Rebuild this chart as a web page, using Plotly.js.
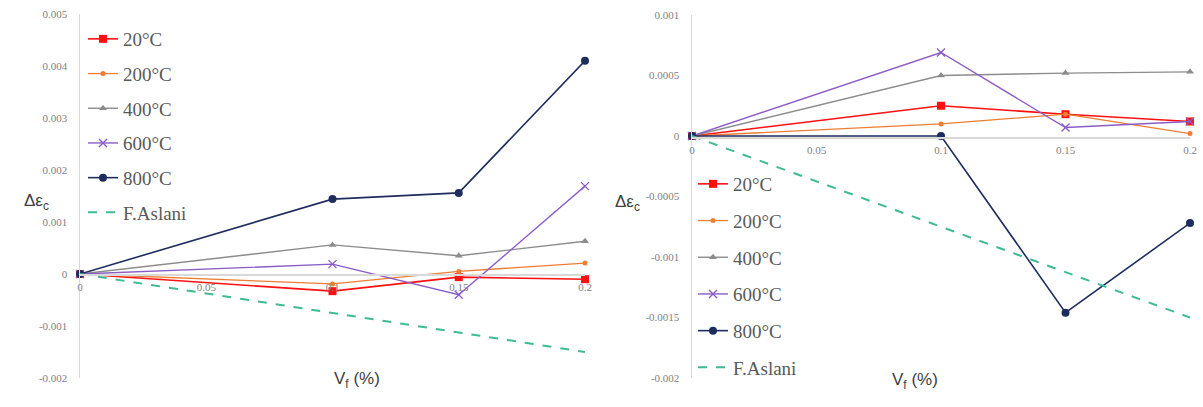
<!DOCTYPE html>
<html>
<head>
<meta charset="utf-8">
<script src="https://cdn.plot.ly/plotly-3.0.1.min.js"></script>
<style>html,body{margin:0;padding:0;background:#fff;}#chart{width:1203px;height:407px;}</style>
</head>
<body>
<div id="chart"></div>
<script>
// ---- data ----
const xVals = [0, 0.1, 0.15, 0.2];
const seriesNames = ['20°C', '200°C', '400°C', '600°C', '800°C', 'F.Aslani'];

// left panel
const left20 = [0, -0.00033, -0.00006, -0.0001];
const left200 = [0, -0.00019, 0.00005, 0.00021];
const left400 = [0, 0.00056, 0.00035, 0.00063];
const left600 = [0, 0.00019, -0.0004, 0.00169];
const left800 = [0, 0.00144, 0.00156, 0.0041];
const leftAslani = [0, -0.00075, -0.001125, -0.0015];

// right panel
const right20 = [0, 0.00025, 0.00018, 0.00012];
const right200 = [0, 0.0001, 0.00018, 0.00002];
const right400 = [0, 0.0005, 0.00052, 0.00053];
const right600 = [0, 0.00069, 0.00007, 0.00012];
const right800 = [0, 0, -0.00146, -0.00072];
const rightAslani = [0, -0.00075, -0.001125, -0.0015];

// ticks
const xTickVals = [0, 0.05, 0.1, 0.15, 0.2];
const xTickText = ['0', '0.05', '0.1', '0.15', '0.2'];
const leftYTickVals = [0.005, 0.004, 0.003, 0.002, 0.001, 0, -0.001, -0.002];
const leftYTickText = ['0.005', '0.004', '0.003', '0.002', '0.001', '0', '-0.001', '-0.002'];
const rightYTickVals = [0.001, 0.0005, 0, -0.0005, -0.001, -0.0015, -0.002];
const rightYTickText = ['0.001', '0.0005', '0', '-0.0005', '-0.001', '-0.0015', '-0.002'];

// ---- styles ----
const styles = [
  {color: '#ff1010', symbol: 'square', size: 8, width: 1.6, dash: 'solid'},
  {color: '#ed7d31', symbol: 'circle', size: 5, width: 1.3, dash: 'solid'},
  {color: '#8c8c8c', symbol: 'triangle-up', size: 7, width: 1.4, dash: 'solid'},
  {color: '#8a5cc6', symbol: 'x-thin-open', size: 8, width: 1.4, dash: 'solid'},
  {color: '#1f2d5e', symbol: 'circle', size: 8, width: 1.6, dash: 'solid'},
  {color: '#3dbb95', symbol: 'circle', size: 0, width: 2, dash: 'dash'}
];

function makeTraces(arrs, xa, ya, legendId) {
  return arrs.map((ys, i) => {
    const s = styles[i];
    const t = {
      x: xVals, y: ys, name: seriesNames[i], xaxis: xa, yaxis: ya,
      legend: legendId, legendgroup: legendId + i,
      type: 'scatter',
      mode: s.size ? 'lines+markers' : 'lines',
      line: {color: s.color, width: s.width, dash: s.dash},
      cliponaxis: false
    };
    if (s.size) {
      t.marker = {color: s.color, symbol: s.symbol, size: s.size,
        line: {color: s.color, width: s.symbol === 'x-thin-open' ? 1.4 : 0}};
    }
    return t;
  });
}

const traces = [
  ...makeTraces([left20, left200, left400, left600, left800, leftAslani], 'x', 'y', 'legend'),
  ...makeTraces([right20, right200, right400, right600, right800, rightAslani], 'x2', 'y2', 'legend2')
];

const tickFont = {family: 'Liberation Serif, serif', size: 11, color: '#7f7f7f'};
const legendFont = {family: 'Liberation Serif, serif', size: 19, color: '#595959'};
const titleFont = {family: 'Liberation Sans, Arial, sans-serif', size: 17, color: '#404040'};

const H = 407, W = 1203;
function py(p) { return 1 - p / H; }
function px(p) { return p / W; }

const layout = {
  width: W, height: H,
  margin: {l: 0, r: 0, t: 0, b: 0},
  paper_bgcolor: '#fff', plot_bgcolor: 'rgba(0,0,0,0)',
  showlegend: true,
  xaxis: {
    domain: [px(80), px(585)], range: [0, 0.2], anchor: 'free', position: py(274),
    showline: true, linecolor: '#d9d9d9', linewidth: 1.5,
    tickvals: xTickVals, ticktext: xTickText, tickfont: tickFont,
    ticks: 'outside', ticklen: 2, tickcolor: 'rgba(0,0,0,0)',
    showgrid: false, zeroline: false
  },
  yaxis: {
    domain: [py(378), py(14)], range: [-0.002, 0.005], anchor: 'x',
    showline: true, linecolor: '#d9d9d9', linewidth: 1.5,
    tickvals: leftYTickVals, ticktext: leftYTickText, tickfont: tickFont,
    ticks: 'outside', ticklen: 9, tickcolor: 'rgba(0,0,0,0)',
    showgrid: false, zeroline: false
  },
  xaxis2: {
    domain: [px(692), px(1190)], range: [0, 0.2], anchor: 'free', position: py(137),
    showline: true, linecolor: '#d9d9d9', linewidth: 1.5,
    tickvals: xTickVals, ticktext: xTickText, tickfont: tickFont,
    ticks: 'outside', ticklen: 2, tickcolor: 'rgba(0,0,0,0)',
    showgrid: false, zeroline: false
  },
  yaxis2: {
    domain: [py(378), py(15)], range: [-0.002, 0.001], anchor: 'x2',
    showline: true, linecolor: '#d9d9d9', linewidth: 1.5,
    tickvals: rightYTickVals, ticktext: rightYTickText, tickfont: tickFont,
    ticks: 'outside', ticklen: 9, tickcolor: 'rgba(0,0,0,0)',
    showgrid: false, zeroline: false
  },
  legend: {
    x: px(83), y: py(20), xanchor: 'left', yanchor: 'top',
    bgcolor: 'rgba(0,0,0,0)', font: legendFont, tracegroupgap: 7,
    itemwidth: 30, traceorder: 'grouped'
  },
  legend2: {
    x: px(693), y: py(165), xanchor: 'left', yanchor: 'top',
    bgcolor: 'rgba(0,0,0,0)', font: legendFont, tracegroupgap: 9,
    itemwidth: 30, traceorder: 'grouped'
  },
  annotations: [
    {text: 'Δε<sub>c</sub>', x: px(22), y: py(202), xref: 'paper', yref: 'paper', showarrow: false, font: titleFont},
    {text: 'Δε<sub>c</sub>', x: px(627), y: py(203), xref: 'paper', yref: 'paper', showarrow: false, font: titleFont},
    {text: 'V<sub>f</sub> (%)', x: px(332), y: py(393), xref: 'paper', yref: 'paper', showarrow: false, font: titleFont},
    {text: 'V<sub>f</sub> (%)', x: px(940), y: py(394), xref: 'paper', yref: 'paper', showarrow: false, font: titleFont}
  ]
};

Plotly.newPlot('chart', traces, layout, {displayModeBar: false, staticPlot: true});
</script>
</body>
</html>
